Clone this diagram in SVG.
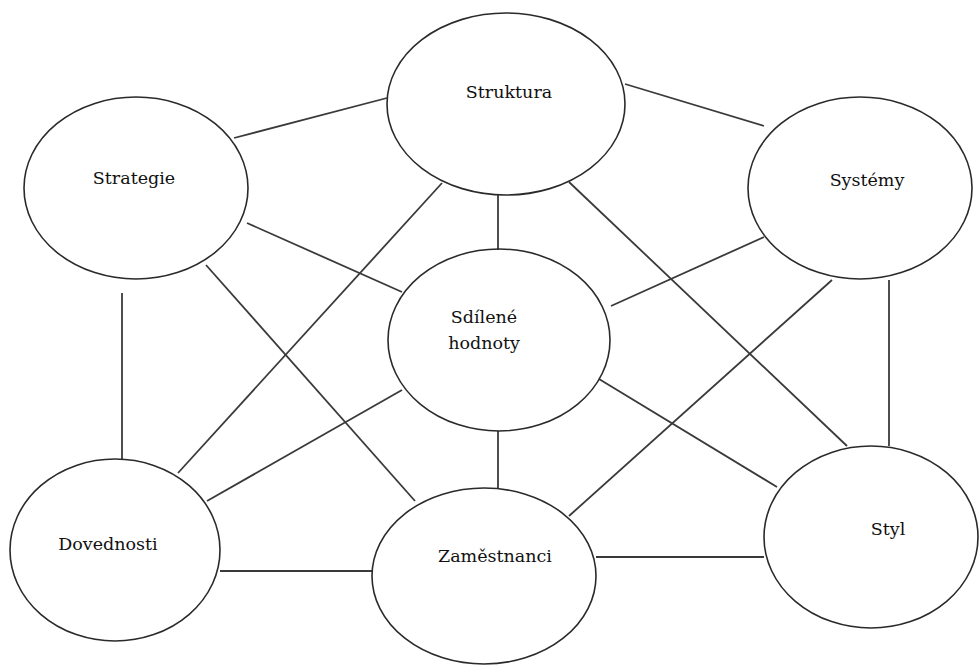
<svg xmlns="http://www.w3.org/2000/svg" width="979" height="666" viewBox="0 0 979 666">
  <style>
    .node ellipse { fill: none; stroke: #2a2a2a; stroke-width: 1.6; }
    .node text { font-family: "DejaVu Serif", "Liberation Serif", serif; font-size: 17.5px; fill: #111; text-anchor: middle; }
    #links line { stroke: #3a3a3a; stroke-width: 1.8; }
  </style>
  <rect width="979" height="666" fill="#ffffff"/>

  <g id="links">
    <line x1="234" y1="138" x2="387" y2="98"/>
    <line x1="625" y1="84" x2="764" y2="126"/>
    <line x1="247" y1="223" x2="402" y2="292"/>
    <line x1="206" y1="265" x2="415" y2="501"/>
    <line x1="442" y1="183" x2="178" y2="473"/>
    <line x1="498" y1="195" x2="498" y2="250"/>
    <line x1="569" y1="182" x2="847" y2="446"/>
    <line x1="764" y1="237" x2="611" y2="306"/>
    <line x1="832" y1="280" x2="569" y2="516"/>
    <line x1="889" y1="280" x2="889" y2="446"/>
    <line x1="122" y1="293" x2="122" y2="460"/>
    <line x1="402" y1="390" x2="207" y2="501"/>
    <line x1="498" y1="431" x2="498" y2="488"/>
    <line x1="599" y1="379" x2="777" y2="487"/>
    <line x1="220" y1="571" x2="372" y2="571"/>
    <line x1="596" y1="557" x2="764" y2="557"/>
  </g>

  <g id="strategie" class="node">
    <ellipse cx="136" cy="188" rx="112" ry="91"/>
    <text x="134" y="184">Strategie</text>
  </g>
  <g id="struktura" class="node">
    <ellipse cx="506" cy="104" rx="119" ry="91"/>
    <text x="509" y="98">Struktura</text>
  </g>
  <g id="systemy" class="node">
    <ellipse cx="860" cy="188" rx="112" ry="91"/>
    <text x="867" y="186">Systémy</text>
  </g>
  <g id="sdilene-hodnoty" class="node">
    <ellipse cx="499" cy="340" rx="111" ry="91"/>
    <text x="484" y="323">Sdílené</text>
    <text x="484" y="349">hodnoty</text>
  </g>
  <g id="dovednosti" class="node">
    <ellipse cx="115" cy="550" rx="105" ry="91"/>
    <text x="108" y="550">Dovednosti</text>
  </g>
  <g id="zamestnanci" class="node">
    <ellipse cx="484" cy="576" rx="112" ry="88"/>
    <text x="495" y="562">Zaměstnanci</text>
  </g>
  <g id="styl" class="node">
    <ellipse cx="871" cy="537" rx="107" ry="91"/>
    <text x="888" y="535">Styl</text>
  </g>
</svg>
